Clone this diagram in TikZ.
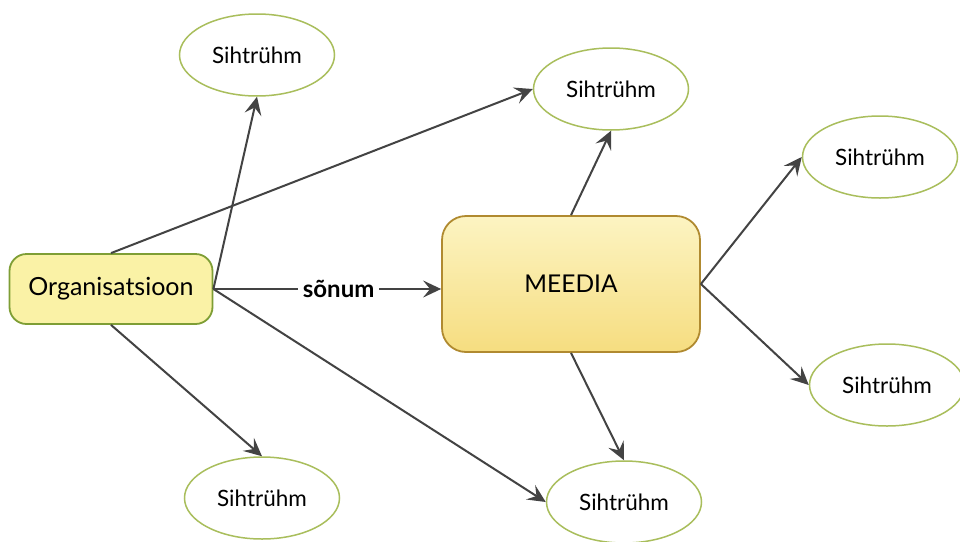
\documentclass[tikz,border=0pt]{standalone}
\usepackage{fontspec}
\setmainfont{Lato}
\usetikzlibrary{shapes.geometric,arrows.meta}
\definecolor{lineGray}{HTML}{434343}
\definecolor{orgFill}{HTML}{FAF2A6}
\definecolor{orgEdge}{HTML}{7E9E35}
\definecolor{mediaTop}{HTML}{FCF4C2}
\definecolor{mediaBot}{HTML}{F6DD80}
\definecolor{mediaEdge}{HTML}{B08A30}
\definecolor{targetEdge}{HTML}{A9BE5C}
\tikzset{
  orgbox/.style={draw=orgEdge, line width=1.8pt, fill=orgFill, rounded corners=17pt,
    minimum width=203pt, minimum height=70pt, inner sep=0pt,
    font=\fontsize{25}{28}\selectfont},
  mediabox/.style={draw=mediaEdge, line width=1.8pt, top color=mediaTop, bottom color=mediaBot,
    rounded corners=24pt, minimum width=258pt, minimum height=136pt, inner sep=0pt,
    font=\fontsize{24.5}{28}\selectfont},
  target/.style={ellipse, draw=targetEdge, line width=1.5pt, fill=white,
    minimum width=155pt, minimum height=82pt, inner sep=0pt,
    font=\fontsize{22.5}{26}\selectfont},
  link/.style={draw=lineGray, line width=2pt,
    -{Stealth[length=18pt, width=17pt, inset=7pt]}},
  lbl/.style={fill=white, inner sep=5pt, font=\bfseries\fontsize{24}{28}\selectfont}
}
\begin{document}
\begin{tikzpicture}[x=1pt, y=-1pt]
\useasboundingbox (0,0) rectangle (960,541);
\fill[white] (0,0) rectangle (960,541);

% sender and channel
\node[orgbox] (org) at (111,289) {Organisatsioon};
\node[mediabox] (media) at (571,284) {MEEDIA};

% target audiences
\node[target] (t1) at (257,55) {Sihtrühm};
\node[target] (t2) at (611,89) {Sihtrühm};
\node[target] (t3) at (880,157) {Sihtrühm};
\node[target] (t4) at (887,385) {Sihtrühm};
\node[target] (t5) at (262,498) {Sihtrühm};
\node[target] (t6) at (624,502) {Sihtrühm};

% direct communication from the organisation
\draw[link] (org.north) -- (t2.west);
\draw[link] (org.east) -- (t1.south);
\draw[link] (org.east) -- node[lbl, pos=0.55] {sõnum} (org.east -| media.west);
\draw[link] (org.east) -- (t6.west);
\draw[link] (org.south) -- (t5.north);

% communication through the media
\draw[link] (media.north) -- (t2.south);
\draw[link] (media.east) -- (t3.west);
\draw[link] (media.east) -- (t4.west);
\draw[link] (media.south) -- (t6.north);
\end{tikzpicture}
\end{document}
